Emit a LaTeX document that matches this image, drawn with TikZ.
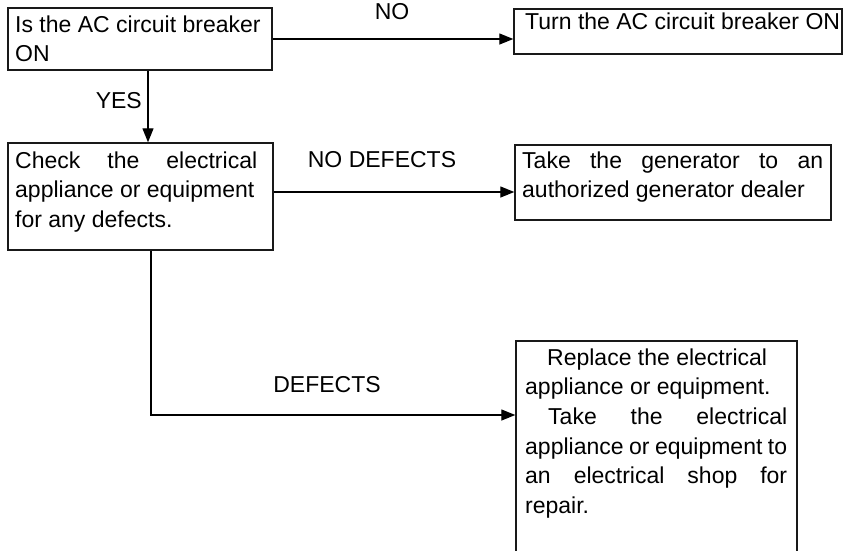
\documentclass[tikz,border=0pt]{standalone}
\usepackage{fontspec}
\setmainfont{Liberation Sans}
\usetikzlibrary{arrows.meta}
\begin{document}
\begin{tikzpicture}[x=1pt,y=-1pt,
  box/.style={draw=black!90,line width=1.4pt,rectangle,inner sep=0pt},
  txt/.style={anchor=base west,inner sep=0pt,font={\fontsize{23}{29.7}\selectfont}},
  lbl/.style={anchor=base,inner sep=0pt,font={\fontsize{23}{29.7}\selectfont}},
  arr/.style={line width=1.3pt,-{Triangle[length=14pt,width=11pt]}}]
\useasboundingbox (0,0) rectangle (847,550);
\clip (0,0) rectangle (847,550);
\fill[white] (0,0) rectangle (847,550);
% boxes
\node[box,minimum width=264pt,minimum height=62pt] (b1) at (140,39) {};
\node[box,minimum width=328pt,minimum height=45pt] (b2) at (678,31.5) {};
\node[box,minimum width=265pt,minimum height=107pt] (b3) at (140.5,196.5) {};
\node[box,minimum width=316pt,minimum height=75pt] (b4) at (673,182.5) {};
\node[box,minimum width=281pt,minimum height=229pt] (b5) at (656.5,455.5) {};
% texts
\node[txt] (t1) at (15,32) {\parbox[t]{255pt}{Is the AC circuit breaker\\ON}};
\node[txt] (t2) at (525,29) {Turn the AC circuit breaker ON};
\node[txt] (t3) at (15,168) {\parbox[t]{250pt}{\makebox[242pt][s]{Check the electrical}\\appliance or equipment\\for any defects.}};
\node[txt] (t4) at (522,168) {\parbox[t]{305pt}{\makebox[301pt][s]{Take the generator to an}\\authorized generator dealer}};
\node[txt] (t5) at (525,365) {\parbox[t]{270pt}{\hspace*{22pt}Replace the electrical\\appliance or equipment.\\\hspace*{23pt}\makebox[239pt][s]{Take the electrical}\\\makebox[262pt][s]{appliance or equipment to}\\\makebox[262pt][s]{an electrical shop for}\\repair.}};
% labels
\node[lbl] (lno) at (392,19) {NO};
\node[lbl,anchor=base east] (lyes) at (142,108) {YES};
\node[lbl] (lnod) at (382,167) {NO DEFECTS};
\node[lbl] (ldef) at (327,392) {DEFECTS};
% connectors
\draw[arr] (b1.east) -- (b1.east -| b2.west);
\draw[arr] ([xshift=8pt]b1.south) -- ([xshift=8pt]b1.south |- b3.north);
\draw[arr] ([yshift=4.5pt]b3.east) -- ([yshift=4.5pt]b3.east -| b4.west);
\draw[arr] ([xshift=10.5pt]b3.south) |- ([yshift=40.5pt]b5.west);
\end{tikzpicture}
\end{document}
